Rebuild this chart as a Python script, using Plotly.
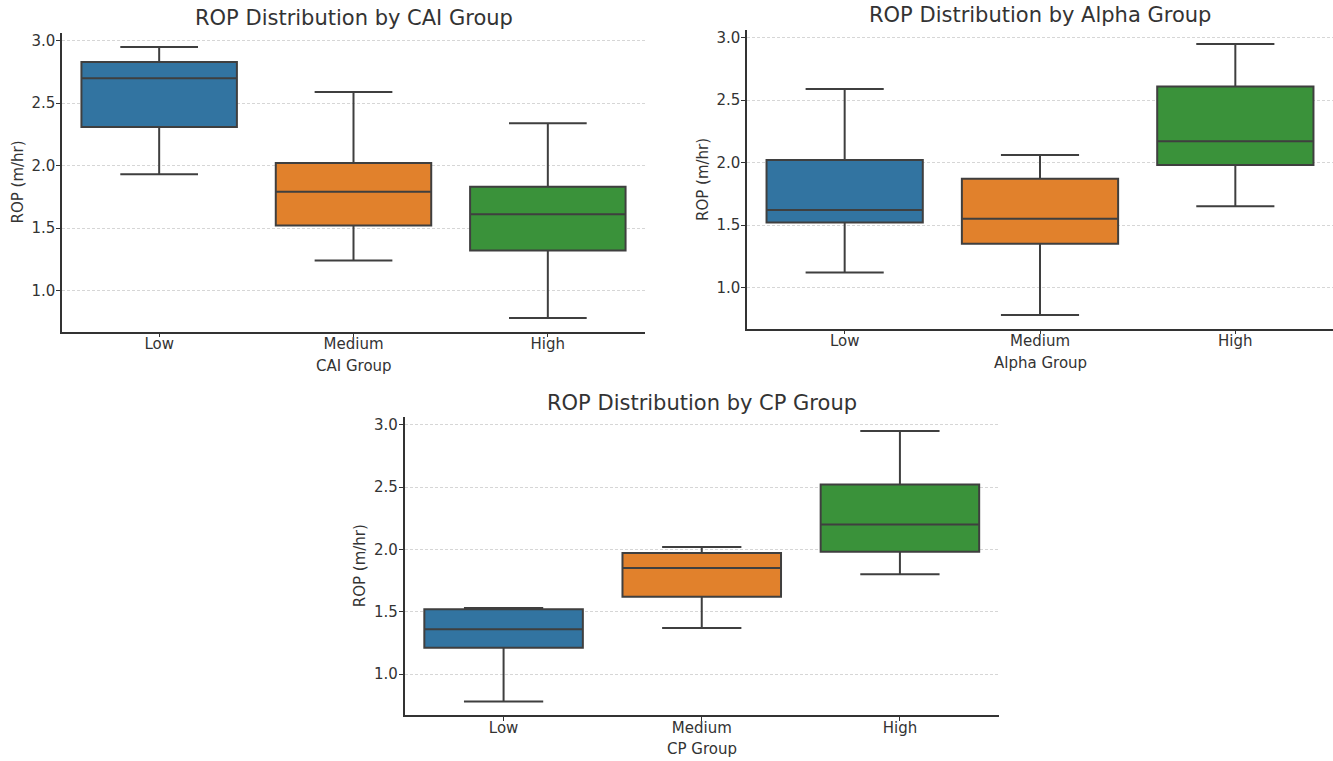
import plotly.graph_objects as go

W, H = 1333, 761

groups = ["Low", "Medium", "High"]
palette = ["#3274a1", "#e1812c", "#3a923a"]
y_ticks = [1.0, 1.5, 2.0, 2.5, 3.0]

# CAI groups: whisker ends, quartiles and medians of ROP (m/hr)
cai_upper = [2.95, 2.59, 2.34]
cai_q3 = [2.83, 2.02, 1.83]
cai_median = [2.70, 1.79, 1.61]
cai_q1 = [2.31, 1.52, 1.32]
cai_lower = [1.93, 1.24, 0.78]

# Alpha groups
alpha_upper = [2.59, 2.06, 2.95]
alpha_q3 = [2.02, 1.87, 2.61]
alpha_median = [1.62, 1.55, 2.17]
alpha_q1 = [1.52, 1.35, 1.98]
alpha_lower = [1.12, 0.78, 1.65]

# CP groups
cp_upper = [1.53, 2.02, 2.95]
cp_q3 = [1.52, 1.97, 2.52]
cp_median = [1.36, 1.85, 2.20]
cp_q1 = [1.21, 1.62, 1.98]
cp_lower = [0.78, 1.37, 1.80]

panels = [
    dict(title="ROP Distribution by CAI Group", xlabel="CAI Group",
         lower=cai_lower, q1=cai_q1, median=cai_median, q3=cai_q3, upper=cai_upper,
         box=(62, 645, 33.4, 331.5), title_y=18.5, xlabel_y=365.5, ylabel_x=18),
    dict(title="ROP Distribution by Alpha Group", xlabel="Alpha Group",
         lower=alpha_lower, q1=alpha_q1, median=alpha_median, q3=alpha_q3, upper=alpha_upper,
         box=(747, 1333, 30.4, 328.5), title_y=15.5, xlabel_y=362.5, ylabel_x=703.5),
    dict(title="ROP Distribution by CP Group", xlabel="CP Group",
         lower=cp_lower, q1=cp_q1, median=cp_median, q3=cp_q3, upper=cp_upper,
         box=(404.5, 999, 417.4, 715), title_y=403, xlabel_y=749, ylabel_x=360),
]

FONT = "DejaVu Sans"
TEXT = "#333333"
EDGE = "#3f3f3f"

def px(x):
    return x / W

def py(y):
    return 1 - y / H

all_vals = cai_lower + cai_upper + alpha_lower + alpha_upper + cp_lower + cp_upper
lo, hi = min(all_vals), max(all_vals)
pad = (hi - lo) * 0.05
y_range = [lo - pad, hi + pad]

fig = go.Figure()
annotations = []
layout_axes = {}

for i, p in enumerate(panels, start=1):
    xa = "x" if i == 1 else f"x{i}"
    ya = "y" if i == 1 else f"y{i}"
    for j, g in enumerate(groups):
        fig.add_trace(go.Box(
            x=[g],
            q1=[p["q1"][j]], median=[p["median"][j]], q3=[p["q3"][j]],
            lowerfence=[p["lower"][j]], upperfence=[p["upper"][j]],
            fillcolor=palette[j],
            line=dict(color=EDGE, width=2),
            width=0.8, whiskerwidth=0.5,
            showlegend=False, hoverinfo="skip",
            xaxis=xa, yaxis=ya,
        ))
    x0, x1, y0, y1 = p["box"]
    xkey = "xaxis" if i == 1 else f"xaxis{i}"
    ykey = "yaxis" if i == 1 else f"yaxis{i}"
    layout_axes[xkey] = dict(
        domain=[px(x0), min(px(x1), 1.0)], anchor=ya,
        type="category", categoryorder="array", categoryarray=groups,
        range=[-0.5, 2.5], showgrid=False, zeroline=False,
        showline=True, linecolor="#333333", linewidth=1.5,
        ticks="outside", ticklen=4, tickwidth=1, tickcolor="#333333",
        ticklabelstandoff=-6,
        tickfont=dict(family=FONT, size=15, color=TEXT),
        automargin=False, fixedrange=True,
    )
    layout_axes[ykey] = dict(
        domain=[py(y1), py(y0)], anchor=xa,
        range=y_range, tickvals=y_ticks, tickformat=".1f",
        showgrid=True, gridcolor="#d6d6d6", gridwidth=0.8, griddash="3px,2px",
        zeroline=False, showline=True, linecolor="#333333", linewidth=1.5,
        ticks="outside", ticklen=4, tickwidth=1, tickcolor="#333333",
        ticklabelstandoff=-2,
        tickfont=dict(family=FONT, size=15, color=TEXT),
        automargin=False, fixedrange=True,
    )
    cx = (x0 + min(x1, W)) / 2
    cy = (y0 + y1) / 2
    annotations.append(dict(
        text=p["title"], x=px(cx), y=py(p["title_y"]), xref="paper", yref="paper",
        xanchor="center", yanchor="middle", showarrow=False,
        font=dict(family=FONT, size=21, color=TEXT),
    ))
    annotations.append(dict(
        text=p["xlabel"], x=px(cx), y=py(p["xlabel_y"]), xref="paper", yref="paper",
        xanchor="center", yanchor="middle", showarrow=False,
        font=dict(family=FONT, size=15, color=TEXT),
    ))
    annotations.append(dict(
        text="ROP (m/hr)", x=px(p["ylabel_x"]), y=py(cy), xref="paper", yref="paper",
        xanchor="center", yanchor="middle", textangle=-90, showarrow=False,
        font=dict(family=FONT, size=15, color=TEXT),
    ))

fig.update_layout(
    width=W, height=H,
    margin=dict(l=0, r=0, t=0, b=0),
    paper_bgcolor="white", plot_bgcolor="white",
    boxmode="overlay",
    annotations=annotations,
    **layout_axes,
)

fig.write_html("out.html", config={"displayModeBar": False})
